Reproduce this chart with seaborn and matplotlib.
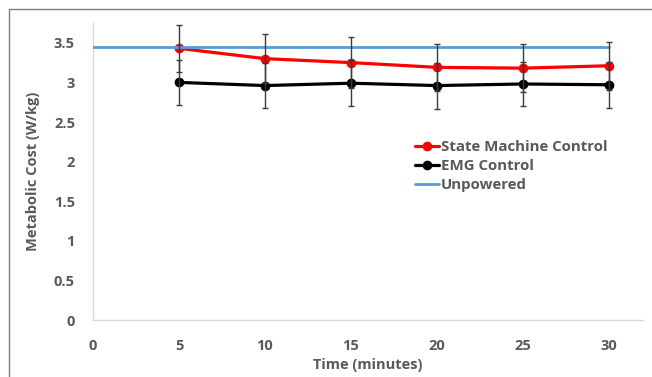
import matplotlib
matplotlib.use("Agg")
import matplotlib.pyplot as plt
import seaborn as sns
import pandas as pd
from matplotlib.patches import Rectangle

time_min = [5, 10, 15, 20, 25, 30]
state_machine = [3.43, 3.30, 3.25, 3.19, 3.18, 3.21]
state_machine_err = [0.30, 0.31, 0.32, 0.30, 0.30, 0.30]
emg = [3.00, 2.96, 2.99, 2.96, 2.98, 2.97]
emg_err = [0.28, 0.28, 0.29, 0.29, 0.28, 0.29]
unpowered_x = [0, 30]
unpowered = [3.45, 3.45]

y_ticks = [0, 0.5, 1, 1.5, 2, 2.5, 3, 3.5]
y_tick_labels = ["0", "0.5", "1", "1.5", "2", "2.5", "3", "3.5"]
x_ticks = [0, 5, 10, 15, 20, 25, 30]

sns.set_theme(style="white")
plt.rcParams['font.family'] = ['Open Sans', 'DejaVu Sans']

fig = plt.figure(figsize=(6.52, 3.77), dpi=100)
ax = fig.add_axes([93/652, 57/377, 550/652, 297/377])

# outer chart frame
fig.patches.append(Rectangle((9/652, -0.05), 1.1, 1 - 9/377 + 0.05,
                             transform=fig.transFigure, fill=False,
                             edgecolor="#7f7f7f", linewidth=1.0))

df_sm = pd.DataFrame({"t": time_min, "v": state_machine})
df_emg = pd.DataFrame({"t": time_min, "v": emg})
df_un = pd.DataFrame({"t": unpowered_x, "v": unpowered})

sns.lineplot(data=df_sm, x="t", y="v", ax=ax, color="#ff0000", lw=2.3,
             marker="o", markersize=7, markeredgewidth=0,
             label="State Machine Control", zorder=3)
sns.lineplot(data=df_emg, x="t", y="v", ax=ax, color="#000000", lw=2.3,
             marker="o", markersize=7, markeredgewidth=0,
             label="EMG Control", zorder=3)
sns.lineplot(data=df_un, x="t", y="v", ax=ax, color="#5b9bd5", lw=2.0,
             label="Unpowered", zorder=4)

ax.errorbar(time_min, state_machine, yerr=state_machine_err, fmt="none",
            ecolor="#3a3a3a", elinewidth=1.0, capsize=2.5, capthick=1.0, zorder=5)
ax.errorbar(time_min, emg, yerr=emg_err, fmt="none",
            ecolor="#3a3a3a", elinewidth=1.0, capsize=2.5, capthick=1.0, zorder=5)

ax.set_xlim(0, 32)
ax.set_ylim(0, 3.75)
ax.set_yticks(y_ticks)
ax.set_yticklabels(y_tick_labels)
ax.set_xticks(x_ticks)

for s in ["top", "right"]:
    ax.spines[s].set_visible(False)
for s in ["left", "bottom"]:
    ax.spines[s].set_color("#d9d9d9")
    ax.spines[s].set_linewidth(1.0)

ax.tick_params(axis="both", length=0, labelsize=10.5, labelcolor="#595959")
ax.tick_params(axis="y", pad=13)
ax.tick_params(axis="x", pad=14)
for lab in ax.get_xticklabels() + ax.get_yticklabels():
    lab.set_fontweight("bold")

ax.set_xlabel("Time (minutes)", fontsize=10.5, fontweight="bold", color="#595959", labelpad=3)
ax.set_ylabel("Metabolic Cost (W/kg)", fontsize=10.5, fontweight="bold", color="#595959", labelpad=10)

leg = ax.legend(loc="upper left", bbox_to_anchor=(0.575, 0.625), frameon=False,
                fontsize=10.8, handlelength=1.6, handletextpad=0.1,
                labelspacing=0.32, borderaxespad=0)
for t in leg.get_texts():
    t.set_color("#595959")
    t.set_fontweight("bold")

fig.savefig("out.png", dpi=100)
